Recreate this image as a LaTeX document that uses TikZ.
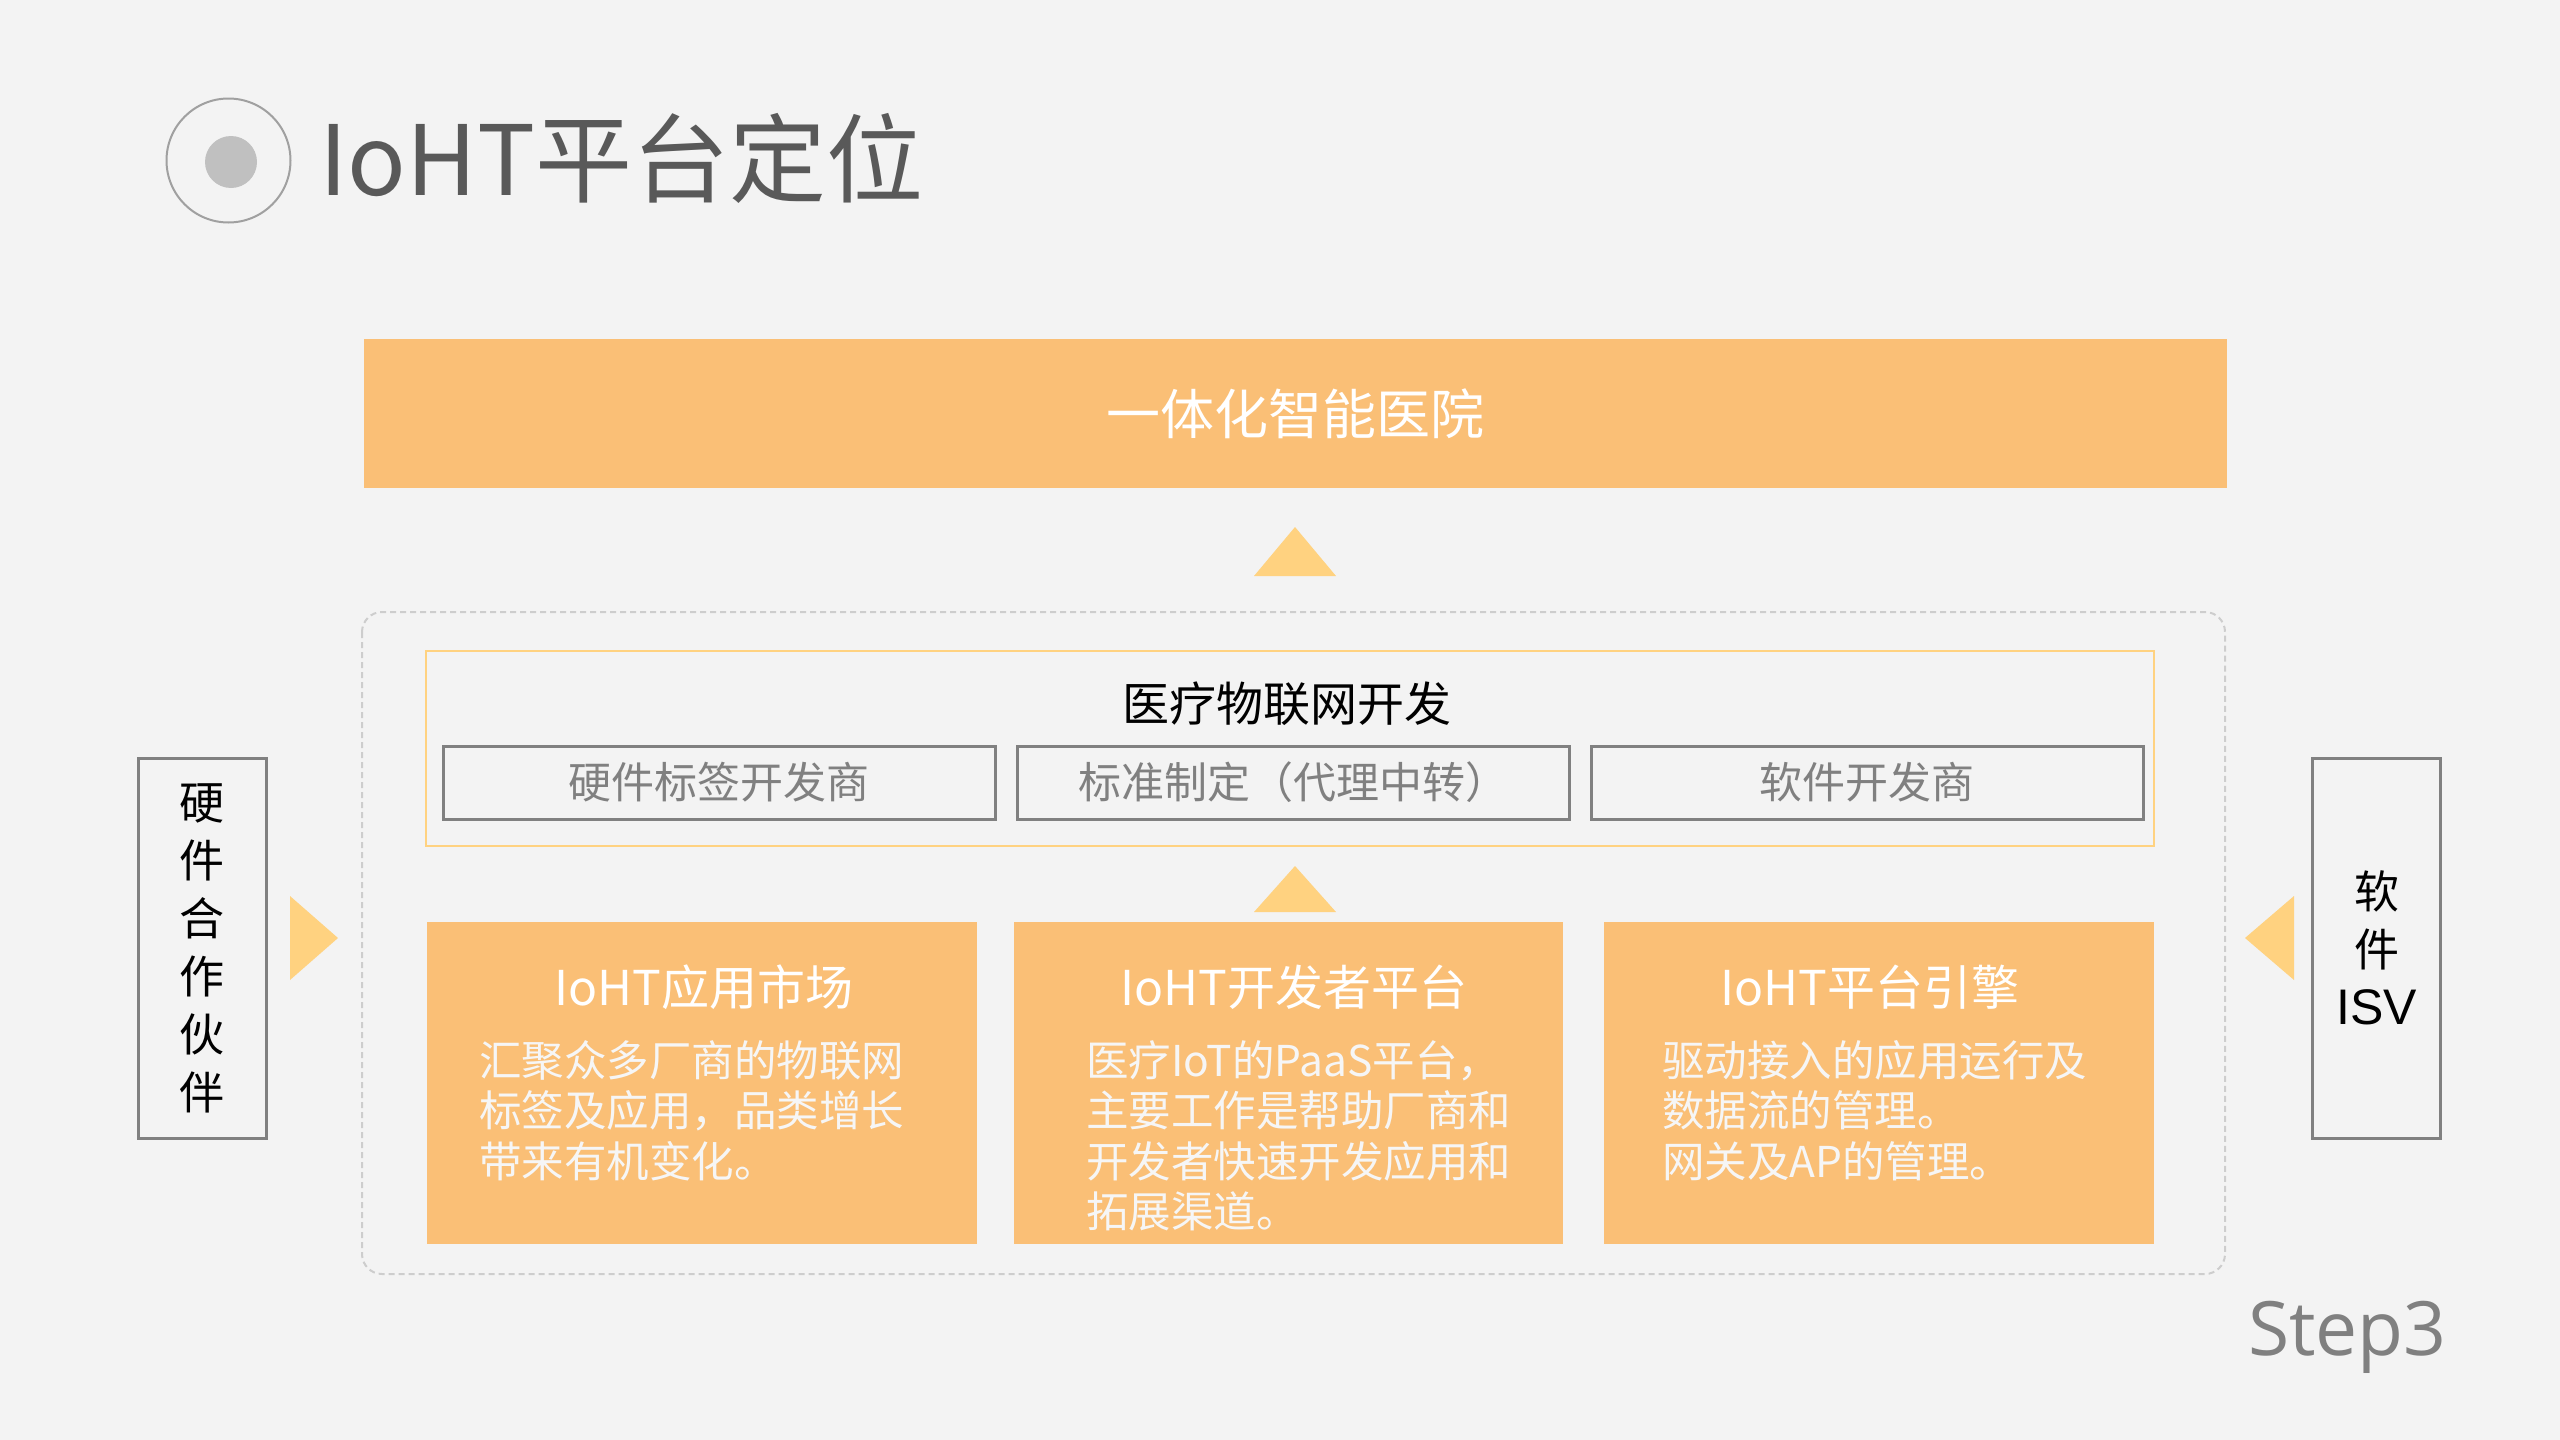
\documentclass[tikz,border=0pt]{standalone}
\usepackage{fontspec}
\setmainfont{Noto Sans CJK SC}
\newfontfamily\latinsans{Liberation Sans}
\newfontfamily\stepfont{Open Sans}
\definecolor{bgc}{RGB}{243,243,243}
\definecolor{boxorange}{RGB}{250,191,118}
\definecolor{trifill}{RGB}{255,210,128}
\definecolor{linegray}{RGB}{128,128,128}
\definecolor{dashgray}{RGB}{205,205,205}
\definecolor{titlegray}{RGB}{89,89,89}
\definecolor{dotgray}{RGB}{192,192,192}
\definecolor{circgray}{RGB}{160,160,160}
\definecolor{bodywhite}{RGB}{246,246,246}
\tikzset{
  orangebox/.style={fill=boxorange,draw=none,inner sep=0pt},
  graybox/.style={draw=linegray,line width=3pt,inner sep=0pt,minimum width=552pt,minimum height=73pt,text=linegray,font=\fontsize{43}{46}\selectfont},
  sidebox/.style={draw=linegray,line width=3pt,inner sep=0pt,minimum width=128pt,minimum height=380pt,align=center,font=\fontsize{45}{58}\selectfont},
  boxtitle/.style={text=white,inner sep=0pt,font=\fontsize{48}{50}\selectfont},
  boxbody/.style={text=bodywhite,inner sep=0pt,anchor=north west,align=left,font=\fontsize{42.5}{50.5}\selectfont},
  arrowtri/.style={fill=trifill,draw=none},
}
\begin{document}
\begin{tikzpicture}[x=1pt,y=-1pt]
\fill[bgc] (0,0) rectangle (2560,1440);
\useasboundingbox (0,0) rectangle (2560,1440);
% title
\draw[circgray,line width=2pt] (228.5,160.5) circle[radius=62pt];
\fill[dotgray] (231,162) circle[radius=26pt];
\node[anchor=west,inner sep=0pt,text=titlegray,font=\fontsize{97}{100}\selectfont] (title) at (319,158) {IoHT平台定位};
% top bar
\node[orangebox,minimum width=1863pt,minimum height=149pt,text=white,font=\fontsize{54}{56}\selectfont] (hospital) at (1295.5,413.5) {一体化智能医院};
\fill[arrowtri] (1254,576) -- (1295,527) -- (1336,576) -- cycle;
% dashed container
\draw[dashgray,line width=2pt,dash pattern=on 6pt off 4pt,rounded corners=20pt] (362,612) rectangle (2225,1274);
% development box
\draw[trifill,line width=2pt] (426,651) rectangle (2154,846);
\node[inner sep=0pt,font=\fontsize{47}{50}\selectfont] (dev) at (1287,704) {医疗物联网开发};
\node[graybox] (hw) at (719,782.5) {硬件标签开发商};
\node[graybox] (std) at (1293,782.5) {标准制定（代理中转）};
\node[graybox] (sw) at (1867,782.5) {软件开发商};
\fill[arrowtri] (1254,912) -- (1295,866) -- (1336,912) -- cycle;
% orange boxes
\node[orangebox,minimum width=550pt,minimum height=322pt] (market) at (702,1083) {};
\node[orangebox,minimum width=549pt,minimum height=322pt] (devplat) at (1288.5,1083) {};
\node[orangebox,minimum width=550pt,minimum height=322pt] (engine) at (1879,1083) {};
\node[boxtitle] (t1) at (704,987) {IoHT应用市场};
\node[boxtitle] (t2) at (1294,987) {IoHT开发者平台};
\node[boxtitle] (t3) at (1870,987) {IoHT平台引擎};
\node[boxbody] (b1) at (479,1040) {汇聚众多厂商的物联网\\标签及应用，品类增长\\带来有机变化。};
\node[boxbody] (b2) at (1086,1040) {医疗IoT的PaaS平台，\\主要工作是帮助厂商和\\开发者快速开发应用和\\拓展渠道。};
\node[boxbody] (b3) at (1662,1040) {驱动接入的应用运行及\\数据流的管理。\\网关及AP的管理。};
% side boxes
\node[sidebox] (hwp) at (202,948) {硬\\件\\合\\作\\伙\\伴};
\node[sidebox] (isv) at (2376.5,948) {软\\件\\{\latinsans\fontsize{50}{58}\selectfont ISV}};
\fill[arrowtri] (290,896) -- (338,938) -- (290,980) -- cycle;
\fill[arrowtri] (2294,896) -- (2245,938) -- (2294,980) -- cycle;
% step
\node[anchor=base west,inner sep=0pt,text=linegray,font=\stepfont\fontsize{75}{80}\selectfont] (step3) at (2248,1355) {Step3};
\end{tikzpicture}
\end{document}
